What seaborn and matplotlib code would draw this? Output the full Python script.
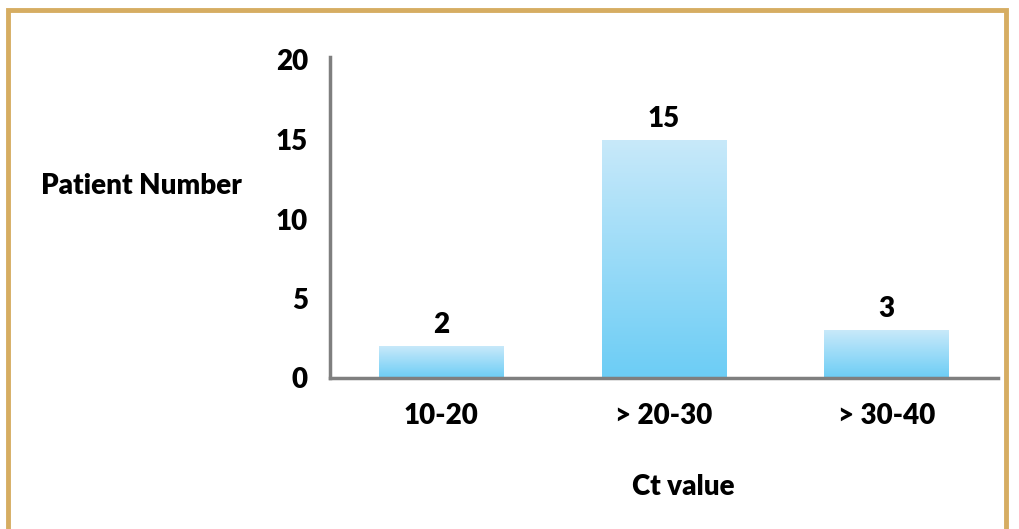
import numpy as np
import pandas as pd
import matplotlib
matplotlib.use("Agg")
import matplotlib.pyplot as plt
from matplotlib.colors import LinearSegmentedColormap
from matplotlib.patches import Rectangle
import seaborn as sns

# Patient counts per Ct value range
categories = ["10-20", "> 20-30", "> 30-40"]
patients = [2, 15, 3]
y_ticks = [0, 5, 10, 15, 20]

df = pd.DataFrame({"ct": categories, "n": patients})

sns.set_theme(style="white")
plt.rcParams["font.family"] = ["Lato", "DejaVu Sans"]
FW = "heavy"
FS = 20

fig = plt.figure(figsize=(10.19, 5.29), dpi=100)
ax = fig.add_axes([330 / 1019, 1 - 378 / 529, 668 / 1019, (378 - 60) / 529])

sns.barplot(data=df, x="ct", y="n", ax=ax, width=0.56, color="#8fd9f7",
            saturation=1, edgecolor="none")

# vertical gradient fill inside each bar
grad = LinearSegmentedColormap.from_list("g", ["#6ccdf5", "#c8e9fa"])
gimg = np.linspace(0, 1, 256).reshape(-1, 1)
for p in ax.patches:
    x0, y0 = p.get_x(), p.get_y()
    w, h = p.get_width(), p.get_height()
    im = ax.imshow(gimg, cmap=grad, origin="lower", aspect="auto",
                   extent=[x0, x0 + w, y0, y0 + h], zorder=p.get_zorder() + 0.1)
    im.set_clip_path(p)
    ax.text(x0 + w / 2, h + 0.5, f"{int(h)}", ha="center", va="bottom",
            fontsize=FS, fontweight=FW, color="black")

ax.set_xlim(-0.5, 2.5)
ax.set_ylim(0, 20)
ax.set_yticks(y_ticks)
ax.tick_params(axis="both", length=0, labelsize=FS, colors="black")
ax.tick_params(axis="y", pad=16)
ax.tick_params(axis="x", pad=18)
for lab in ax.get_xticklabels() + ax.get_yticklabels():
    lab.set_fontweight(FW)

for side in ["top", "right"]:
    ax.spines[side].set_visible(False)
for side in ["left", "bottom"]:
    ax.spines[side].set_color("#7f7f7f")
    ax.spines[side].set_linewidth(2.5)
ax.spines["left"].set_bounds(0, 20.2)

ax.set_xlabel("Ct value", fontsize=FS, fontweight=FW, color="black")
ax.xaxis.set_label_coords((683 - 330) / 668, -(487 - 378) / 318)
ax.xaxis.label.set_va("center")
ax.set_ylabel("Patient Number", fontsize=FS, fontweight=FW, color="black",
              rotation=0, ha="center", va="center")
ax.yaxis.set_label_coords((141 - 330) / 668, (378 - 186) / 318)

# decorative frame around the figure
frame_col = "#d6ad62"
fig.add_artist(Rectangle((8 / 1019, -0.05), (1006 - 8) / 1019, 1.05 - 10 / 529,
                         transform=fig.transFigure, fill=False,
                         edgecolor=frame_col, linewidth=3.5))

fig.savefig("out.png", dpi=100)
